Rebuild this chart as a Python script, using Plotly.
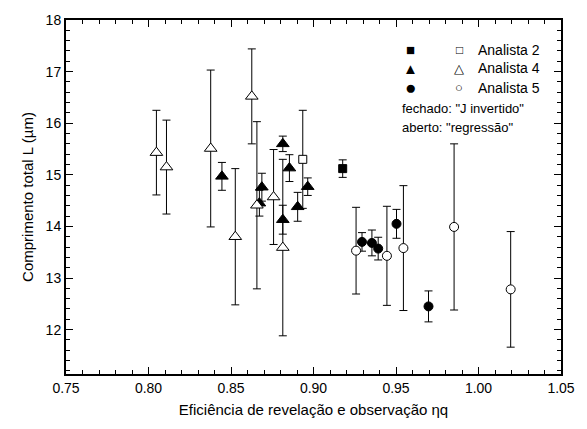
import plotly.graph_objects as go

# Analista 2
a2_fechado_x = [0.9177]
a2_fechado_y = [15.12]
a2_fechado_err = [0.17]
a2_aberto_x = [0.8935]
a2_aberto_y = [15.30]
a2_aberto_err = [0.95]

# Analista 4
a4_fechado_x = [0.8445, 0.8672, 0.8687, 0.8814, 0.8814, 0.8854, 0.8904, 0.8965]
a4_fechado_y = [14.97, 14.45, 14.76, 15.60, 14.13, 15.13, 14.38, 14.77]
a4_fechado_err = [0.27, 0.25, 0.27, 0.15, 0.28, 0.26, 0.28, 0.17]
a4_aberto_x = [0.8048, 0.8109, 0.8377, 0.8526, 0.8626, 0.8657, 0.8758, 0.8814]
a4_aberto_y = [15.43, 15.15, 15.51, 13.80, 16.52, 14.41, 14.57, 13.59]
a4_aberto_err = [0.82, 0.91, 1.52, 1.32, 0.92, 1.62, 0.92, 1.71]

# Analista 5
a5_fechado_x = [0.9294, 0.9354, 0.9392, 0.9503, 0.9697]
a5_fechado_y = [13.70, 13.68, 13.57, 14.05, 12.45]
a5_fechado_err = [0.18, 0.25, 0.22, 0.28, 0.30]
a5_aberto_x = [0.9258, 0.9445, 0.9545, 0.9852, 1.0195]
a5_aberto_y = [13.53, 13.43, 13.58, 13.99, 12.78]
a5_aberto_err = [0.84, 0.96, 1.21, 1.61, 1.12]

FONT = "Liberation Sans, Arial, Helvetica, sans-serif"

fig = go.Figure()


def add_series(x, y, err, symbol, filled, size):
    fig.add_trace(go.Scatter(
        x=x, y=y, mode="markers",
        error_y=dict(type="data", array=err, visible=True,
                     color="black", thickness=1, width=4),
        marker=dict(symbol=symbol, size=size,
                    color="black" if filled else "white",
                    line=dict(color="black", width=1)),
        showlegend=False, hoverinfo="x+y",
    ))


# closed markers first so open ones sit on top
add_series(a4_fechado_x, a4_fechado_y, a4_fechado_err, "triangle-up", True, 11)
add_series(a2_fechado_x, a2_fechado_y, a2_fechado_err, "square", True, 8)
add_series(a5_fechado_x, a5_fechado_y, a5_fechado_err, "circle", True, 9)
add_series(a4_aberto_x, a4_aberto_y, a4_aberto_err, "triangle-up", False, 11)
add_series(a2_aberto_x, a2_aberto_y, a2_aberto_err, "square", False, 8)
add_series(a5_aberto_x, a5_aberto_y, a5_aberto_err, "circle", False, 9)

# legend block drawn as text: (filled glyph, size), (open glyph, size), label
legend_rows = [
    (("■", 15), ("□", 12), "Analista 2"),
    (("▲", 15), ("△", 13), "Analista 4"),
    (("●", 19), ("○", 13), "Analista 5"),
]
row_y = [43, 62, 82]
ann = []
for (sf, so, name), yy in zip(legend_rows, row_y):
    ann.append(dict(x=411, y=yy, text=sf[0], font=dict(size=sf[1], color="black")))
    ann.append(dict(x=460, y=yy, text=so[0], font=dict(size=so[1], color="black")))
    ann.append(dict(x=477, y=yy, text=name, xanchor="left", font=dict(size=14, color="black")))
ann.append(dict(x=401, y=103, text='fechado: "J invertido"', xanchor="left", font=dict(size=13, color="black")))
ann.append(dict(x=401, y=122, text='aberto: "regressão"', xanchor="left", font=dict(size=13, color="black")))
for a in ann:
    a.update(xref="paper", yref="paper", showarrow=False, yanchor="middle")
    a.setdefault("xanchor", "center")
    # convert pixel placement inside the 587x429 canvas to paper coords
    a["x"] = (a["x"] - 66) / (562 - 66)
    a["y"] = (374.3 - a["y"]) / (374.3 - 12.7)

axis_common = dict(
    showline=True, linecolor="black", linewidth=2, mirror="allticks",
    ticks="inside", ticklen=7, tickwidth=1.3, tickcolor="black",
    showgrid=False, zeroline=False,
    tickfont=dict(size=14, color="black", family=FONT),
)

fig.update_layout(
    width=587, height=429,
    margin=dict(l=66, r=25, t=13, b=55),
    paper_bgcolor="white", plot_bgcolor="white",
    font=dict(family=FONT, color="black"),
    annotations=ann,
    xaxis=dict(
        range=[0.75, 1.05], dtick=0.05, tick0=0.75, tickformat=".2f",
        minor=dict(dtick=0.01, ticks="inside", ticklen=4, tickcolor="black", tickwidth=1),
        title=dict(text="Eficiência de revelação e observação ηq",
                   font=dict(size=15, color="black", family=FONT), standoff=10),
        **axis_common,
    ),
    yaxis=dict(
        range=[11.14, 18], dtick=1, tick0=12,
        minor=dict(dtick=0.2, ticks="inside", ticklen=4, tickcolor="black", tickwidth=1),
        title=dict(text="Comprimento total L (µm)",
                   font=dict(size=15, color="black", family=FONT), standoff=8),
        **axis_common,
    ),
)

fig.write_html("out.html")
